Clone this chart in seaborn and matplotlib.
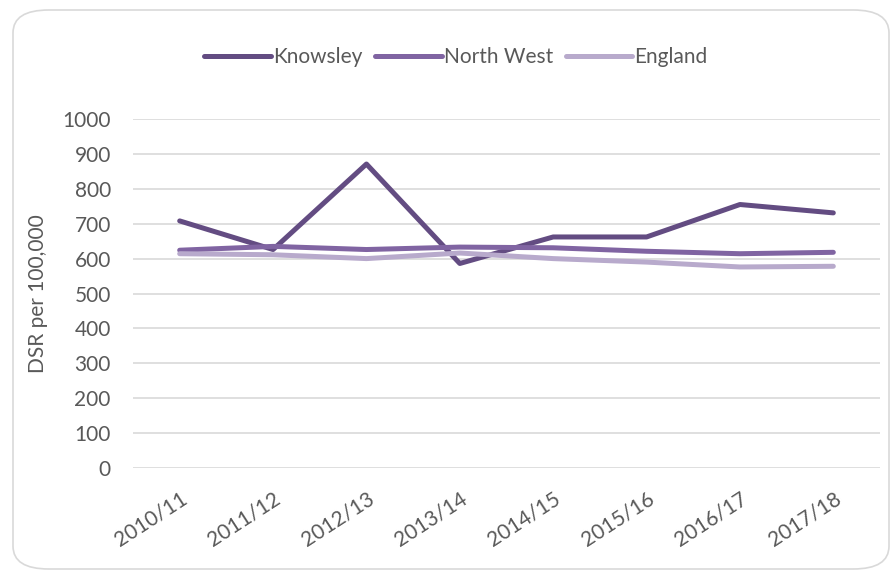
import pandas as pd
import matplotlib.pyplot as plt
import seaborn as sns
from matplotlib.patches import FancyBboxPatch

# Data
years = ["2010/11", "2011/12", "2012/13", "2013/14",
         "2014/15", "2015/16", "2016/17", "2017/18"]
knowsley = [708, 626, 871, 586, 662, 662, 755, 731]
north_west = [624, 635, 626, 633, 631, 621, 614, 618]
england = [614, 611, 600, 616, 600, 590, 576, 578]
series_names = ["Knowsley", "North West", "England"]
colours = ["#634C82", "#8064A2", "#B8AACC"]

df = pd.DataFrame({
    "year": years * 3,
    "area": [n for n in series_names for _ in years],
    "dsr": knowsley + north_west + england,
})

sns.set_style("white")
plt.rcParams["font.family"] = ["Lato", "DejaVu Sans"]
text_col = "#595959"
fs = 15

fig = plt.figure(figsize=(8.95, 5.71), dpi=100)
ax = fig.add_axes([133 / 895, 1 - 468 / 571, (880 - 133) / 895, (468 - 119) / 571])

# rounded chart border
fig.patches.append(FancyBboxPatch((13 / 895, 1 - 569 / 571), 876 / 895, 559 / 571,
                                  boxstyle="round,pad=0,rounding_size=0.04",
                                  transform=fig.transFigure, facecolor="none",
                                  edgecolor="#D9D9D9", linewidth=1.2, zorder=-1))

sns.lineplot(data=df, x="year", y="dsr", hue="area", hue_order=series_names,
             palette=colours, linewidth=3.6, sort=False, ax=ax, legend=False)

ax.set_xlim(-0.5, 7.5)
ax.set_ylim(0, 1000)
ax.set_yticks(range(0, 1001, 100))
ax.grid(axis="y", color="#D9D9D9", linewidth=1.2)
ax.grid(axis="x", visible=False)
for s in ax.spines.values():
    s.set_visible(False)
ax.tick_params(axis="y", length=0, pad=16, labelsize=fs, labelcolor=text_col)
ax.tick_params(axis="x", length=0, pad=15, labelsize=fs, labelcolor=text_col)
for lab in ax.get_xticklabels():
    lab.set_rotation(33)
    lab.set_ha("right")
    lab.set_va("top")
    lab.set_rotation_mode("anchor")
ax.set_xlabel("")
ax.set_ylabel("DSR per 100,000", fontsize=fs, color=text_col, labelpad=10)

handles = [plt.Line2D([], [], color=c, linewidth=3.6, solid_capstyle="round") for c in colours]
fig.legend(handles, series_names, loc="center", bbox_to_anchor=(456 / 895, 1 - 57 / 571),
           ncol=3, frameon=False, fontsize=fs, labelcolor=text_col,
           handlelength=3.2, handletextpad=0.1, columnspacing=0.6)

fig.savefig("out.png", dpi=100)
